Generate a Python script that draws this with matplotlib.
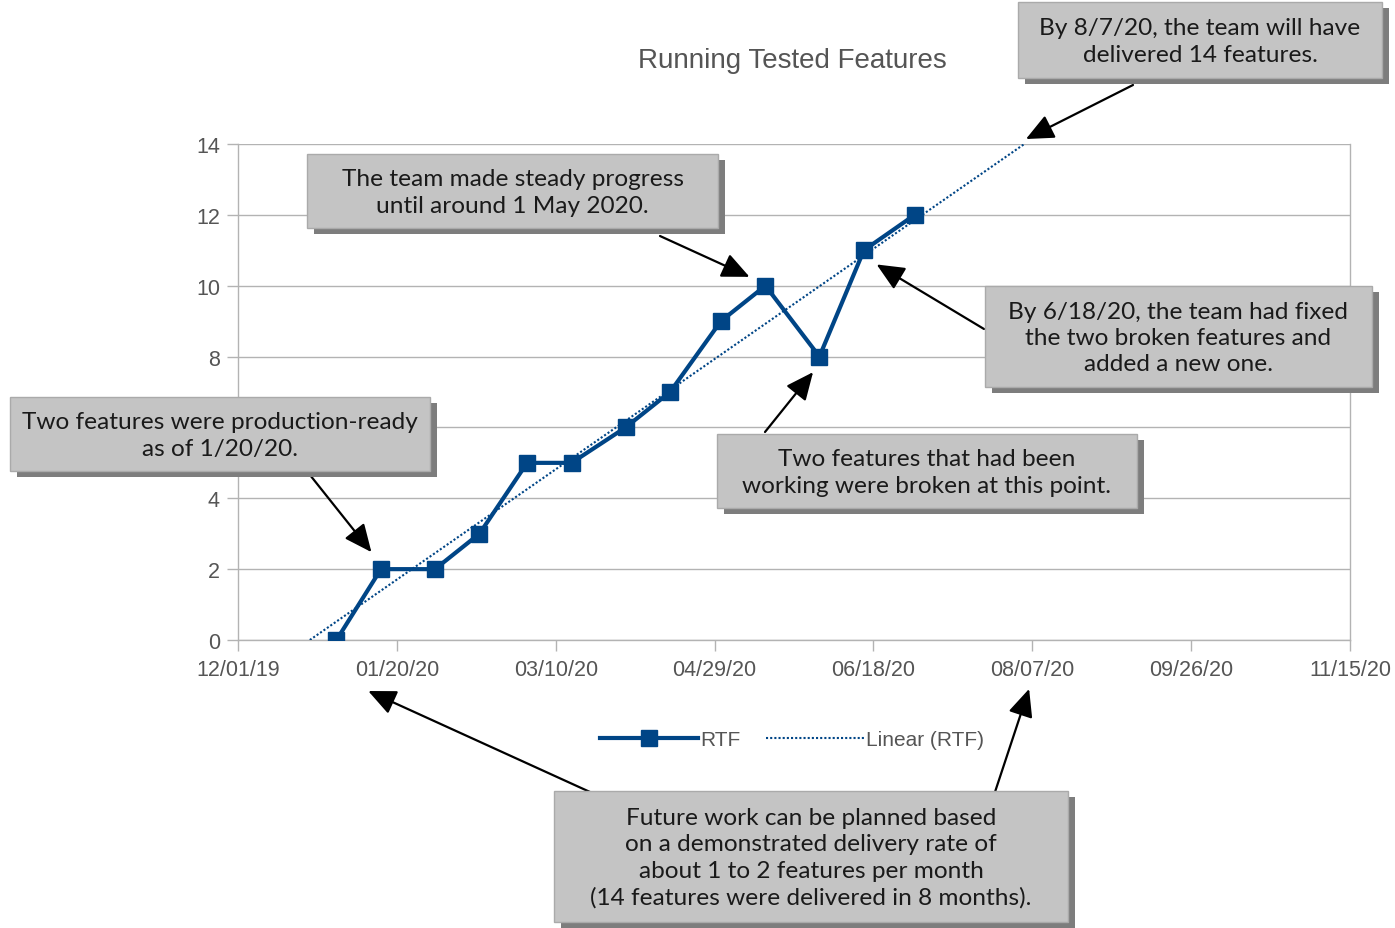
import numpy as np
import matplotlib
matplotlib.use("Agg")
import matplotlib.pyplot as plt
import matplotlib.dates as mdates
from matplotlib.patches import Rectangle
from datetime import date, timedelta

# data
dates = ["2020-01-01", "2020-01-15", "2020-02-01", "2020-02-15", "2020-03-01",
         "2020-03-15", "2020-04-01", "2020-04-15", "2020-05-01", "2020-05-15",
         "2020-06-01", "2020-06-15", "2020-07-01"]
rtf = [0, 2, 2, 3, 5, 5, 6, 7, 9, 10, 8, 11, 12]

tick_start = date(2019, 12, 1)
tick_step_days = 50
n_ticks = 8
y_ticks = [0, 2, 4, 6, 8, 10, 12, 14]

W, H = 1395, 929


def px(x, y):
    # figure pixels (top-left origin) -> figure fraction
    return x / W, 1 - y / H


x = mdates.datestr2num(dates)
y = np.array(rtf, dtype=float)

fig = plt.figure(figsize=(W / 100, H / 100), dpi=100)
ax = fig.add_axes([238 / W, 1 - 641 / H, (1350 - 238) / W, (641 - 145) / H])

blue = "#004586"
ax.plot(x, y, color=blue, lw=3, marker="s", ms=11.5, zorder=4, label="RTF")

# linear trend
m, b = np.polyfit(x, y, 1)
tx = np.array([(0 - b) / m, (14 - b) / m])
ax.plot(tx, m * tx + b, color=blue, lw=1.5, ls=(0, (1.0, 1.0)), zorder=3,
        label="Linear (RTF)")

ticks = [tick_start + timedelta(days=tick_step_days * i) for i in range(n_ticks)]
ax.set_xlim(mdates.date2num(ticks[0]), mdates.date2num(ticks[-1]))
ax.set_ylim(0, 14)
ax.set_xticks(mdates.date2num(ticks))
ax.xaxis.set_major_formatter(mdates.DateFormatter("%m/%d/%y"))
ax.set_yticks(y_ticks)
ax.grid(axis="y", color="#b3b3b3", lw=1)
ax.set_axisbelow(True)
for s in ax.spines.values():
    s.set_color("#b3b3b3")
    s.set_linewidth(1)
ax.spines["top"].set_visible(False)
ax.tick_params(colors="#b3b3b3", labelcolor="#555555", length=8, width=1,
               labelsize=15.5)
for lab in ax.get_xticklabels() + ax.get_yticklabels():
    lab.set_fontfamily("Liberation Sans")
ax.tick_params(axis="x", pad=6)
ax.tick_params(axis="y", pad=5)

fig.text(*px(792, 61), "Running Tested Features", ha="center", va="center",
         fontsize=20, color="#555555", family="Liberation Sans")

leg = fig.legend(loc="center", bbox_to_anchor=px(792, 741), ncol=2, frameon=False,
                 handlelength=4.7, columnspacing=1.2, handletextpad=0.1,
                 prop={"family": "Liberation Sans", "size": 15})
for t in leg.get_texts():
    t.set_color("#555555")

# callout boxes: (left, top, right, bottom) in pixels, text
boxes = [
    ((1018, 3, 1382, 79), "By 8/7/20, the team will have\ndelivered 14 features."),
    ((307, 155, 718, 229), "The team made steady progress\nuntil around 1 May 2020."),
    ((10, 398, 430, 472), "Two features were production-ready\nas of 1/20/20."),
    ((717, 435, 1137, 509), "Two features that had been\nworking were broken at this point."),
    ((985, 287, 1372, 388), "By 6/18/20, the team had fixed\nthe two broken features and\nadded a new one."),
    ((554, 792, 1068, 923), "Future work can be planned based\non a demonstrated delivery rate of\nabout 1 to 2 features per month\n(14 features were delivered in 8 months)."),
]
for (l, t, r, btm), txt in boxes:
    x0, y0 = px(l, btm)
    w, h = (r - l) / W, (btm - t) / H
    fig.add_artist(Rectangle((x0 + 7 / W, y0 - 6 / H), w, h, transform=fig.transFigure,
                             facecolor="#7d7d7d", edgecolor="none", zorder=5))
    fig.add_artist(Rectangle((x0, y0), w, h, transform=fig.transFigure,
                             facecolor="#c4c4c4", edgecolor="#aaaaaa", lw=1, zorder=6))
    fig.text(*px((l + r) / 2, (t + btm) / 2 + 1), txt, ha="center", va="center",
             fontsize=17.6, family="Lato", color="#1a1a1a", linespacing=1.32,
             zorder=7)

# arrows: tip in data coords, tail in figure pixels
arrows = [
    ("2020-08-05", 14.14, (1133, 86)),
    ("2020-05-10", 10.25, (660, 237)),
    ("2020-01-12", 2.48, (310, 476)),
    ("2020-05-30", 7.56, (765, 433)),
    ("2020-06-19", 10.6, (984, 330)),
    ("2020-01-11", -1.44, (590, 793)),
    ("2020-08-06", -1.38, (995, 793)),
]
for d, v, tail in arrows:
    ax.annotate("", xy=(mdates.datestr2num(d), v), xycoords="data",
                xytext=px(*tail), textcoords="figure fraction",
                annotation_clip=False,
                arrowprops=dict(arrowstyle="-|>,head_length=1.0,head_width=0.45",
                                mutation_scale=17, lw=1.6, color="black",
                                shrinkA=0, shrinkB=0), zorder=8)

fig.savefig("out.png", dpi=100)
